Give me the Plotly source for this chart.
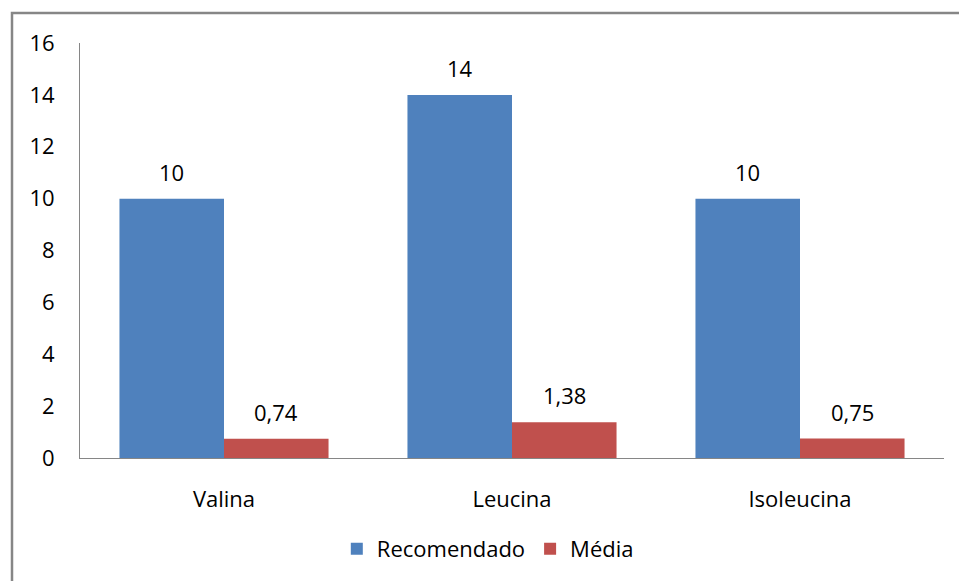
import plotly.graph_objects as go

categories = ["Valina", "Leucina", "Isoleucina"]
recomendado = [10, 14, 10]
media = [0.74, 1.38, 0.75]
series_names = ["Recomendado", "Média"]
y_ticks = [0, 2, 4, 6, 8, 10, 12, 14, 16]

colors = ["#4F81BD", "#C0504D"]
FONT = "Open Sans"
FS = 22

def fmt(v):
    return f"{v:g}".replace(".", ",")

bargap = 0.274
bw = (1 - bargap) / 2
xs = list(range(len(categories)))

fig = go.Figure()
for k, (name, vals) in enumerate(zip(series_names, [recomendado, media])):
    off = (k - 0.5) * bw
    fig.add_trace(go.Bar(
        x=[x + off for x in xs], y=vals, width=bw, name=name,
        marker=dict(color=colors[k], line=dict(width=0)),
    ))
    for x, v in zip(xs, vals):
        fig.add_annotation(x=x + off, y=v, text=fmt(v), showarrow=False,
                           xref="x", yref="y", yanchor="middle", yshift=27,
                           font=dict(family=FONT, size=FS, color="#000000"))

W, H = 959, 581
PW, PH = 864, 416
L, T = 80, 43
fig.update_layout(
    width=W, height=H,
    margin=dict(l=L, r=W - L - PW, t=T, b=H - T - PH),
    paper_bgcolor="white", plot_bgcolor="white",
    font=dict(family=FONT, size=FS, color="#000000"),
    showlegend=True,
    legend=dict(orientation="h", x=0.472, xanchor="center", y=-0.216, yanchor="middle",
                font=dict(family=FONT, size=FS), tracegroupgap=0),
    xaxis=dict(range=[-0.5, 2.5], tickmode="array", tickvals=xs, ticktext=categories,
               showgrid=False, zeroline=False, showline=True, linecolor="#868686",
               linewidth=1, ticks="", ticklabelstandoff=22, fixedrange=True),
    yaxis=dict(range=[0, 16], tickmode="array", tickvals=y_ticks,
               ticktext=[str(t) for t in y_ticks],
               showgrid=False, zeroline=False, showline=True, linecolor="#868686",
               linewidth=1, ticks="", ticklabelstandoff=20, fixedrange=True),
)

# outer chart border (right and bottom edges fall outside the visible window)
fig.add_shape(type="rect", xref="paper", yref="paper",
              x0=(12 - L) / PW, x1=(990 - L) / PW,
              y0=(T + PH - 620) / PH, y1=(T + PH - 13) / PH,
              line=dict(color="#868686", width=2.5), fillcolor="rgba(0,0,0,0)",
              layer="below")

fig.write_html(
    "out.html",
    config={"displayModeBar": False},
    post_script="document.body.style.margin='0';document.body.style.overflow='hidden';",
)
